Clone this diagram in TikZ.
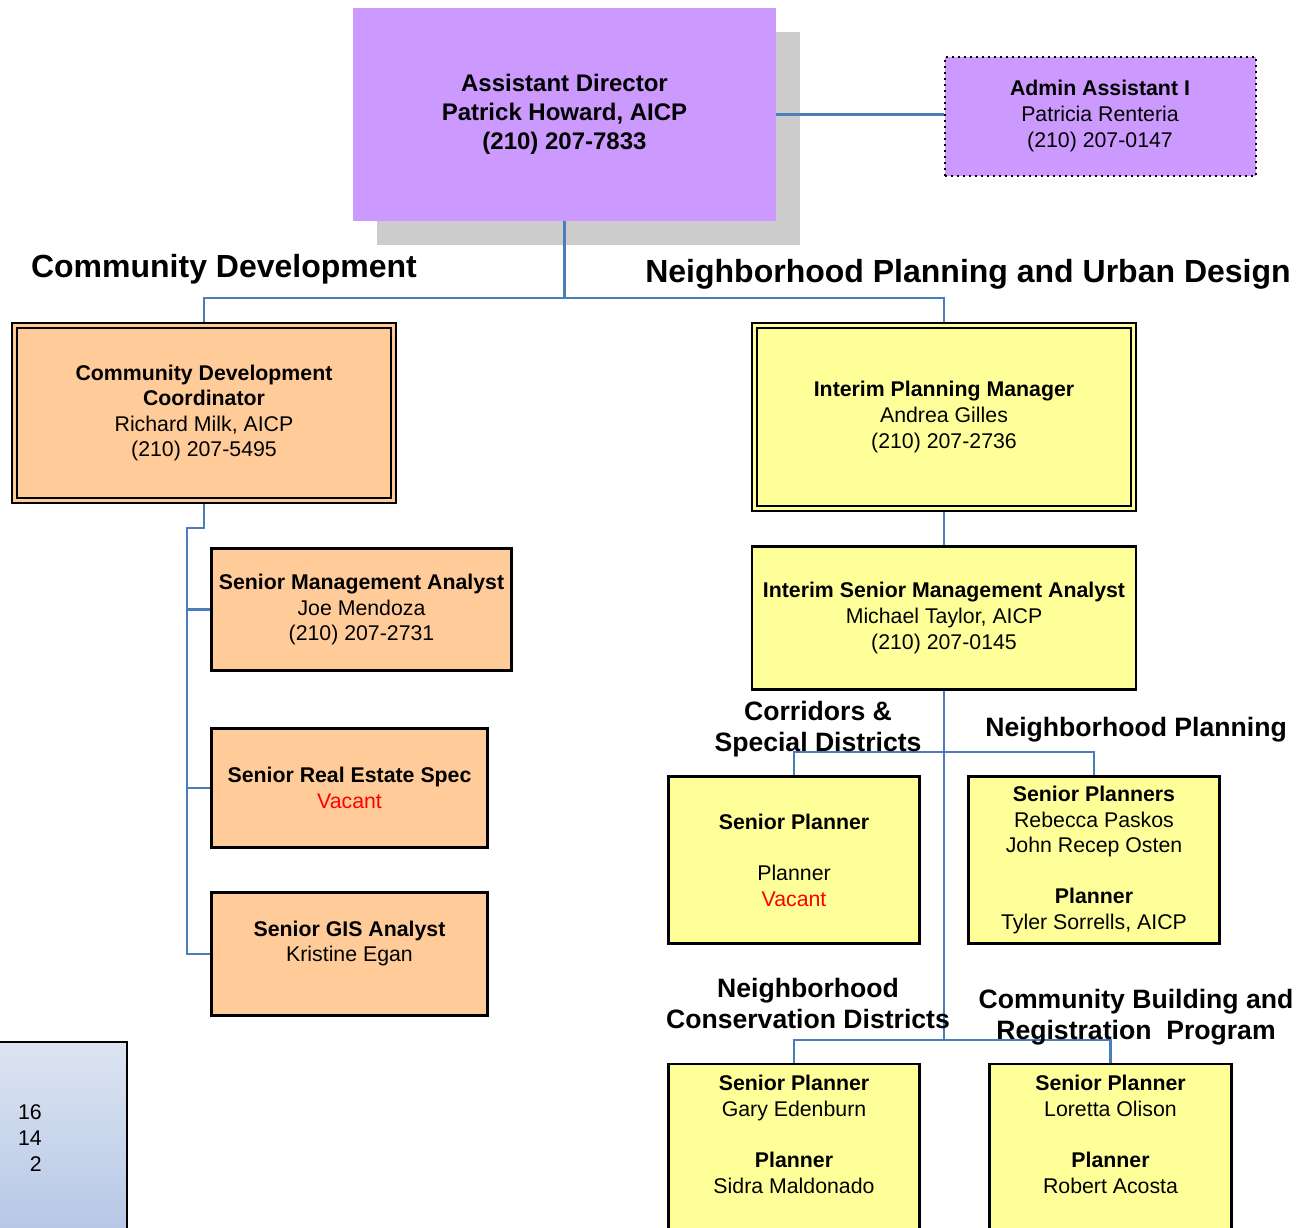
\documentclass[tikz,border=0pt]{standalone}
\usepackage{fontspec}
\setmainfont{Liberation Sans}
\usetikzlibrary{backgrounds}
\definecolor{purp}{HTML}{CC99FF}
\definecolor{orng}{HTML}{FFCC99}
\definecolor{yelw}{HTML}{FFFF99}
\definecolor{shad}{HTML}{CCCCCC}
\definecolor{connblue}{HTML}{4A7EBB}
\definecolor{gtop}{HTML}{DCE4F1}
\definecolor{gbot}{HTML}{B4C6E5}
\newcommand{\boxfont}{\fontsize{21.3}{25.6}\selectfont}
\tikzset{
  box/.style={draw=black, line width=2.1pt, inner sep=0pt, align=center, font=\boxfont},
  obox/.style={box, fill=orng},
  ybox/.style={box, fill=yelw},
  dbox/.style={box, fill=#1, double=#1, double distance=2.6pt, line width=2pt},
  head/.style={font=\fontsize{32}{36}\selectfont\bfseries, inner sep=0pt},
  subhead/.style={font=\fontsize{26.6}{31}\selectfont\bfseries, align=center, inner sep=0pt},
  conn/.style={draw=connblue, line width=2.2pt}
}
\begin{document}
\begin{tikzpicture}[x=1pt,y=-1pt]
\path[use as bounding box] (0,0) rectangle (1300,1227);
\clip (0,0) rectangle (1300,1227);
\begin{scope}[on background layer]
  \node[fill=shad, inner sep=0pt, minimum width=423pt, minimum height=213pt] (adshadow) at (588.5,138.5) {};
\end{scope}
% top
\node[fill=purp, inner sep=0pt, minimum width=423pt, minimum height=213pt, align=center,
      font=\fontsize{24}{29}\selectfont\bfseries] (ad) at (564.5,114.5)
  {Assistant Director\\Patrick Howard, AICP\\(210) 207-7833};
\node[box, fill=purp, line width=2pt, dash pattern=on 2pt off 4pt, minimum width=311pt, minimum height=119pt] (aa) at (1100,116)
  {\textbf{Admin Assistant I}\\Patricia Renteria\\(210) 207-0147};
% headings
\node[head] (hcd) at (224,269) {Community Development};
\node[head] (hnp) at (968,274) {Neighborhood Planning and Urban Design};
% left branch
\node[dbox=orng, minimum width=379pt, minimum height=175pt] (cdc) at (204,413)
  {\textbf{Community Development}\\\textbf{Coordinator}\\Richard Milk, AICP\\(210) 207-5495};
\node[obox, minimum width=300pt, minimum height=122pt] (sma) at (361.5,609.5)
  {\textbf{Senior Management Analyst}\\Joe Mendoza\\(210) 207-2731};
\node[obox, minimum width=276pt, minimum height=119pt] (sre) at (349.5,788)
  {\textbf{Senior Real Estate Spec}\\\textcolor{red}{Vacant}};
\node[obox, minimum width=276pt, minimum height=123pt] (gis) at (349.5,954)
  {\textbf{Senior GIS Analyst}\\Kristine Egan\\\mbox{}};
% right branch
\node[dbox=yelw, minimum width=379pt, minimum height=183pt] (ipm) at (944,417)
  {\textbf{Interim Planning Manager}\\Andrea Gilles\\(210) 207-2736};
\node[ybox, minimum width=384pt, minimum height=143pt] (isma) at (944,618)
  {\textbf{Interim Senior Management Analyst}\\Michael Taylor, AICP\\(210) 207-0145};
\node[ybox, minimum width=251pt, minimum height=167pt] (sp1) at (794,860)
  {\textbf{Senior Planner}\\\mbox{}\\Planner\\\textcolor{red}{Vacant}};
\node[ybox, minimum width=251pt, minimum height=167pt] (sps) at (1094,860)
  {\textbf{Senior Planners}\\Rebecca Paskos\\John Recep Osten\\\mbox{}\\\textbf{Planner}\\Tyler Sorrells, AICP};
\node[ybox, minimum width=251pt, minimum height=192pt] (sp2) at (794,1160)
  {\textbf{Senior Planner}\\Gary Edenburn\\\mbox{}\\\textbf{Planner}\\Sidra Maldonado\\\mbox{}\\\mbox{}};
\node[ybox, minimum width=242pt, minimum height=192pt] (sp3) at (1110.5,1160)
  {\textbf{Senior Planner}\\Loretta Olison\\\mbox{}\\\textbf{Planner}\\Robert Acosta\\\mbox{}\\\mbox{}};
% sub headings
\node[subhead] (hcor) at (818,729.5) {Corridors \&\\Special Districts};
\node[subhead] (hnpl) at (1136,730) {Neighborhood Planning};
\node[subhead] (hncd) at (808,1003) {Neighborhood\\Conservation Districts};
\node[subhead] (hcbr) at (1136,1017.5) {Community Building and\\Registration\ \ Program};
% bottom-left totals box
\node[draw=black, line width=2pt, top color=gtop, bottom color=gbot, inner sep=0pt,
      minimum width=160pt, minimum height=200pt, anchor=north east] (tot) at (128,1041) {};
\node[anchor=east, align=right, font=\boxfont, inner sep=0pt] (cnt) at (42,1138) {16\\14\\2};
% junctions
\coordinate (j1) at (564.5,298);
\coordinate (j2) at (187,528);
\coordinate (j4) at (944,752);
\coordinate (j5) at (944,1040);
\begin{scope}[on background layer]
  \draw[conn] (ad.east) -- (ad.east -| aa.west);
  \draw[conn] (ad.south) -- (j1);
  \draw[conn] (cdc.north) |- (j1) -| (ipm.north);
  \draw[conn] (cdc.south) |- (j2) |- (gis.west);
  \draw[conn] (j2) |- (sma.west);
  \draw[conn] (j2) |- (sre.west);
  \draw[conn] (ipm.south) -- (isma.north);
  \draw[conn] (isma.south) -- (j5);
  \draw[conn] (sp1.north) |- (j4) -| (sps.north);
  \draw[conn] (sp2.north) |- (j5) -| (sp3.north);
\end{scope}
\end{tikzpicture}
\end{document}
